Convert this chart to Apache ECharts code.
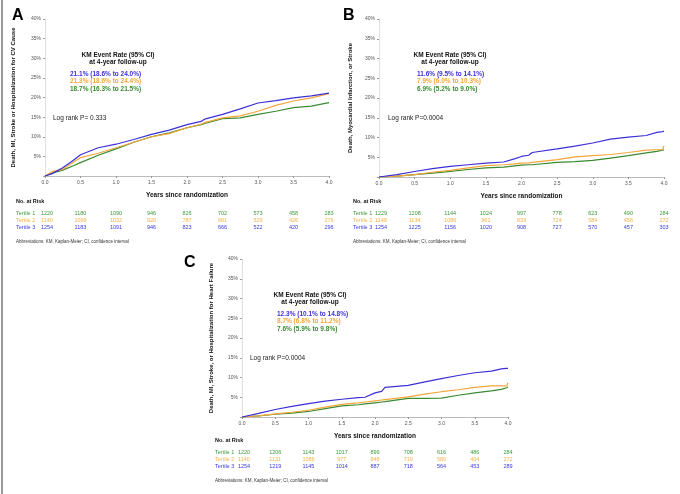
<!DOCTYPE html>
<html>
<head>
<meta charset="utf-8">
<script src="https://cdn.jsdelivr.net/npm/echarts@6/dist/echarts.min.js"></script>
<style>
  html, body { margin: 0; padding: 0; background: #fff; }
  #main { width: 680px; height: 494px; }
</style>
</head>
<body>
<div id="main"></div>
<script>
// years since randomization, one list per panel
var timesA = [0, 0.1, 0.25, 0.4, 0.5, 0.75, 1.0, 1.25, 1.5, 1.75, 2.0, 2.2, 2.25, 2.5, 2.75, 3.0, 3.25, 3.5, 3.75, 4.0];
var timesB = [0, 0.25, 0.5, 0.75, 1.0, 1.25, 1.5, 1.75, 1.9, 2.0, 2.1, 2.15, 2.5, 2.75, 3.0, 3.25, 3.5, 3.75, 3.9, 3.98, 4.0];
var timesC = [0, 0.25, 0.5, 0.75, 1.0, 1.25, 1.5, 1.75, 1.85, 2.0, 2.1, 2.15, 2.5, 2.75, 3.0, 3.25, 3.5, 3.75, 3.9, 3.98, 4.0];

// cumulative event rate (%), tertile 3 = blue, 2 = orange, 1 = green
var blueA   = [0, 0.6, 2.1, 4.0, 5.4, 7.2, 8.1, 9.3, 10.6, 11.7, 13.1, 13.9, 14.5, 15.7, 17.1, 18.6, 19.2, 19.9, 20.4, 21.1];
var orangeA = [0, 1.1, 1.7, 3.5, 4.7, 5.8, 7.2, 8.6, 10.0, 10.8, 12.3, 13.2, 13.6, 14.8, 15.3, 16.5, 18.0, 19.1, 19.9, 21.0];
var greenA  = [0, 0.7, 1.5, 2.6, 3.4, 5.3, 6.9, 8.6, 10.0, 11.0, 12.3, 13.1, 13.4, 14.6, 14.8, 15.7, 16.5, 17.4, 17.8, 18.7];

var blueB   = [0, 0.6, 1.4, 2.1, 2.7, 3.1, 3.5, 3.8, 4.6, 5.2, 5.5, 6.2, 7.1, 7.8, 8.6, 9.6, 10.1, 10.5, 11.3, 11.5, 11.6];
var orangeB = [0, 0.2, 0.6, 1.2, 1.7, 2.3, 2.9, 3.1, 3.3, 3.5, 3.6, 3.7, 4.4, 5.1, 5.4, 5.7, 6.2, 6.8, 6.9, 6.9, 7.9];
var greenB  = [0, 0.2, 0.6, 1.0, 1.4, 1.9, 2.3, 2.5, 2.8, 3.0, 3.1, 3.1, 3.7, 3.9, 4.2, 4.8, 5.4, 6.1, 6.5, 6.8, 6.9];

var blueC   = [0, 0.9, 1.9, 2.7, 3.4, 4.0, 4.5, 4.9, 5.0, 6.1, 6.5, 7.5, 8.0, 8.9, 9.7, 10.5, 11.2, 11.6, 12.2, 12.3, 12.3];
var orangeC = [0, 0.3, 0.8, 1.2, 1.7, 2.5, 3.2, 3.6, 3.8, 4.1, 4.3, 4.4, 5.1, 5.8, 6.4, 6.9, 7.5, 7.9, 7.9, 7.9, 8.7];
var greenC  = [0, 0.3, 0.7, 1.0, 1.4, 2.1, 2.8, 3.1, 3.3, 3.6, 3.8, 3.9, 4.7, 4.7, 4.8, 5.5, 6.1, 6.6, 7.0, 7.4, 7.6];

// number at risk at 0.0, 0.5, ... 4.0
var riskTimes = [0, 0.5, 1.0, 1.5, 2.0, 2.5, 3.0, 3.5, 4.0];
var riskA1 = [1220, 1180, 1090, 946, 826, 702, 573, 458, 283];
var riskA2 = [1140, 1099, 1032, 920, 787, 661, 529, 426, 276];
var riskA3 = [1254, 1183, 1091, 946, 823, 666, 522, 420, 296];
var riskB1 = [1229, 1208, 1144, 1024, 997, 778, 623, 490, 284];
var riskB2 = [1149, 1134, 1086, 961, 833, 724, 584, 456, 272];
var riskB3 = [1254, 1225, 1156, 1020, 908, 727, 570, 457, 303];
var riskC1 = [1220, 1206, 1143, 1017, 899, 708, 616, 486, 284];
var riskC2 = [1140, 1131, 1086, 977, 848, 719, 580, 404, 272];
var riskC3 = [1254, 1219, 1145, 1014, 887, 718, 564, 453, 289];

var kmA = ['21.1% (18.6% to 24.0%)', '21.3% (18.6% to 24.4%)', '18.7% (16.3% to 21.5%)'];
var kmB = ['11.6% (9.5% to 14.1%)', '7.9% (6.0% to 10.3%)', '6.9% (5.2% to 9.0%)'];
var kmC = ['12.3% (10.1% to 14.8%)', '8.7% (6.8% to 11.2%)', '7.6% (5.9% to 9.8%)'];

var BLUE = '#3d2fd8', ORANGE = '#f4a63a', GREEN = '#3a8a32';
var FONT = 'Liberation Sans, Arial, sans-serif';

var chart = echarts.init(document.getElementById('main'), null, { renderer: 'canvas' });

function pairs(t, v) {
  return t.map(function (x, i) { return [x, v[i]]; });
}

function xAxisFor(grid) {
  return {
    type: 'value', gridIndex: grid, min: 0, max: 4, interval: 0.5,
    name: 'Years since randomization', nameLocation: 'middle', nameGap: 16,
    nameTextStyle: { fontFamily: FONT, fontSize: 6.5, fontWeight: 'bold', color: '#111' },
    axisLine: { lineStyle: { color: '#aaa', width: 0.8 } },
    axisTick: { length: 2, lineStyle: { color: '#999' } },
    axisLabel: { fontFamily: FONT, fontSize: 5, color: '#555', margin: 4,
      formatter: function (v) { return v.toFixed(1); } },
    splitLine: { show: false }
  };
}

function yAxisFor(grid, title, gap) {
  return {
    type: 'value', gridIndex: grid, min: 0, max: 40, interval: 5,
    name: title, nameLocation: 'middle', nameGap: gap, nameRotate: 90,
    nameTextStyle: { fontFamily: FONT, fontSize: 6, fontWeight: 'bold', color: '#111' },
    axisLine: { show: true, lineStyle: { color: '#ccc', width: 0.6 } },
    axisTick: { show: true, length: 2, lineStyle: { color: '#999' } },
    axisLabel: { fontFamily: FONT, fontSize: 5, color: '#555', margin: 4,
      formatter: function (v) { return v === 0 ? '' : v + '%'; } },
    splitLine: { show: false }
  };
}

function curve(idx, t, v, color) {
  return {
    type: 'line', xAxisIndex: idx, yAxisIndex: idx, data: pairs(t, v),
    showSymbol: false, silent: true, animation: false,
    lineStyle: { color: color, width: 1.2 }
  };
}

var option = {
  animation: false,
  grid: [
    { left: 45, top: 19, width: 284, height: 157 },
    { left: 379, top: 19, width: 285, height: 158 },
    { left: 242, top: 259, width: 266, height: 158 }
  ],
  xAxis: [xAxisFor(0), xAxisFor(1), xAxisFor(2)],
  yAxis: [
    yAxisFor(0, 'Death, MI, Stroke or Hospitalization for CV Cause', 29),
    yAxisFor(1, 'Death, Myocardial Infarction, or Stroke', 26),
    yAxisFor(2, 'Death, MI, Stroke, or Hospitalization for Heart Failure', 28)
  ],
  series: [
    curve(0, timesA, greenA, GREEN), curve(0, timesA, orangeA, ORANGE), curve(0, timesA, blueA, BLUE),
    curve(1, timesB, greenB, GREEN), curve(1, timesB, orangeB, ORANGE), curve(1, timesB, blueB, BLUE),
    curve(2, timesC, greenC, GREEN), curve(2, timesC, orangeC, ORANGE), curve(2, timesC, blueC, BLUE)
  ]
};
chart.setOption(option);

// texts: panel letters, KM boxes, log-rank, risk tables
function txt(x, y, s, size, color, weight, align) {
  return { type: 'text', x: x, y: y, silent: true,
    style: { text: s, fontFamily: FONT, fontSize: size, fill: color || '#111',
      fontWeight: weight || 'normal', align: align || 'left', verticalAlign: 'middle' } };
}

var g = [];
g.push({ type: 'line', shape: { x1: 2, y1: 0, x2: 2, y2: 494 }, style: { stroke: '#777', lineWidth: 1.5 } });

function panel(idx, letter, lx, ly, kmX, kmCx, kmY, km, lrX, lrY, lrText, tabX, tabY, r1, r2, r3) {
  g.push(txt(lx, ly, letter, 16, '#000', 'bold'));
  g.push(txt(kmCx, kmY, 'KM Event Rate (95% CI)', 6.5, '#111', 'bold', 'center'));
  g.push(txt(kmCx, kmY + 7.5, 'at 4-year follow-up', 6.5, '#111', 'bold', 'center'));
  var cols = [BLUE, ORANGE, GREEN];
  km.forEach(function (s, i) { g.push(txt(kmX, kmY + 19 + i * 7.5, s, 6.5, cols[i], 'bold')); });
  g.push(txt(lrX, lrY, lrText, 6.5, '#222'));
  g.push(txt(tabX, tabY, 'No. at Risk', 5.5, '#111', 'bold'));
  var rows = [[r1, 'Tertile 1', '#3c9a3c'], [r2, 'Tertile 2', '#f5b04a'], [r3, 'Tertile 3', '#3a3ae0']];
  rows.forEach(function (row, i) {
    var y = tabY + 12 + i * 7;
    g.push(txt(tabX, y, row[1], 5.5, row[2]));
    row[0].forEach(function (n, j) {
      var p = chart.convertToPixel({ gridIndex: idx }, [riskTimes[j], 0]);
      g.push(txt(p[0] + (j === 0 ? 2 : 0), y, String(n), 5.5, row[2], 'normal', 'center'));
    });
  });
  g.push(txt(tabX, tabY + 41, 'Abbreviations: KM, Kaplan-Meier; CI, confidence interval', 4.5, '#333'));
}

panel(0, 'A', 12, 16, 70, 118, 55, kmA, 53, 118, 'Log rank P= 0.333', 16, 201, riskA1, riskA2, riskA3);
panel(1, 'B', 343, 16, 417, 450, 55, kmB, 388, 118, 'Log rank P=0.0004', 353, 201, riskB1, riskB2, riskB3);
panel(2, 'C', 184, 263, 277, 310, 295, kmC, 250, 358, 'Log rank P=0.0004', 215, 440, riskC1, riskC2, riskC3);

chart.setOption({ graphic: g });
</script>
</body>
</html>
